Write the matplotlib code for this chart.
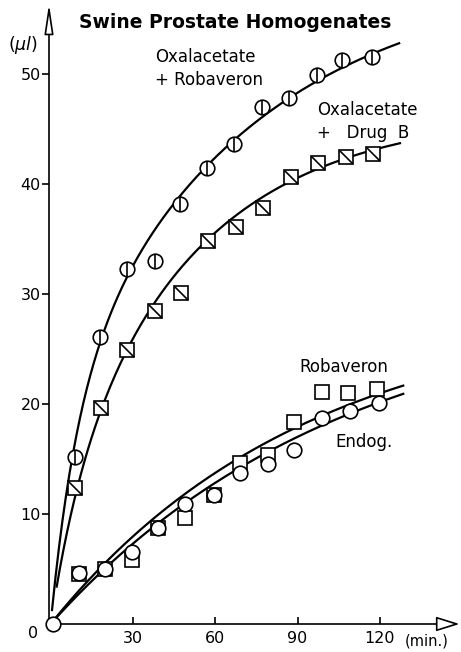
import numpy as np
import matplotlib.pyplot as plt
from matplotlib.path import Path

t_oxrob = [9, 18, 28, 38, 47, 57, 67, 77, 87, 97, 106, 117]
v_oxrob = [15.2, 26.1, 32.3, 33.0, 38.2, 41.4, 43.6, 47.0, 47.8, 49.9, 51.3, 51.5]

t_oxdrug = [9, 18.5, 28, 38, 47.5, 57.5, 67.5, 77.5, 87.5, 97.5, 107.5, 117.5]
v_oxdrug = [12.4, 19.6, 24.9, 28.4, 30.1, 34.8, 36.1, 37.8, 40.6, 41.9, 42.4, 42.7]

t_rob = [10.5, 19.7, 29.7, 39.2, 49, 59.4, 69, 79.3, 88.8, 99, 108.5, 119]
v_rob = [4.5, 5.0, 5.8, 8.7, 9.6, 11.7, 14.6, 15.4, 18.4, 21.1, 21.0, 21.4]

t_endog = [1, 10.5, 19.7, 29.7, 39.2, 49, 59.4, 69, 79.3, 88.8, 99, 109, 119.8]
v_endog = [0, 4.6, 5.0, 6.5, 8.7, 10.9, 11.7, 13.7, 14.5, 15.8, 18.7, 19.4, 20.1]

# hand-drawn curves, sampled off the figure
ct_oxrob = [0.5, 8.2, 18, 28, 47, 57.4, 67, 77, 87, 97, 106, 117, 127]
cv_oxrob = [1.0, 14.9, 26.5, 31.7, 38.3, 41.3, 43.6, 46.5, 48.0, 49.8, 51.0, 51.7, 52.2]

ct_oxdrug = [2.2, 8.9, 18.6, 27.7, 37.3, 56.8, 87.3, 107.4, 127.3]
cv_oxdrug = [1.3, 12.5, 19.75, 24.9, 28.4, 34.9, 40.6, 42.4, 43.4]

ct_rob = [0.8, 22.4, 37.3, 50.8, 67.9, 87.3, 105.5, 120, 128.5]
cv_rob = [0.4, 5.8, 9.7, 11.9, 14.9, 17.9, 20.2, 21.0, 21.1]

ct_endog = [0.8, 20, 37.3, 50.8, 69, 80, 95.6, 113.8, 128.5]
cv_endog = [0.4, 5.0, 8.8, 11.0, 14.0, 16.0, 18.1, 19.9, 20.4]

yticks = [10, 20, 30, 40, 50]
xticks = [30, 60, 90, 120]


def fit_curve(t, v):
    # two-phase saturation v = A(1-exp(-t/T1)) + B(1-exp(-t/T2)), least squares
    t = np.asarray(t, float)
    v = np.asarray(v, float)
    best = None
    taus = np.geomspace(1, 600, 150)
    for i, T1 in enumerate(taus):
        for T2 in taus[i:]:
            M = np.column_stack([1 - np.exp(-t / T1), 1 - np.exp(-t / T2)])
            coef, *_ = np.linalg.lstsq(M, v, rcond=None)
            if np.any(coef < 0):
                continue
            err = np.sum((M @ coef - v) ** 2)
            if best is None or err < best[0]:
                best = (err, coef, T1, T2)
    return best[1:]


def curve(ax, t, v):
    (A, B), T1, T2 = fit_curve(t, v)
    tt = np.linspace(min(t), max(t), 200)
    y = A * (1 - np.exp(-tt / T1)) + B * (1 - np.exp(-tt / T2))
    ax.plot(tt, y, color='black', lw=1.6, zorder=2)


diag = Path([(-1, 1), (1, -1)], [Path.MOVETO, Path.LINETO])

fig = plt.figure(figsize=(4.61, 6.52), dpi=100)
ax = fig.add_axes([49 / 461, 28 / 652, 410.5 / 461, 614 / 652])
ax.set_xlim(-0.6, 149)
ax.set_ylim(0, 55.8)

curve(ax, ct_oxrob, cv_oxrob)
curve(ax, ct_oxdrug, cv_oxdrug)
curve(ax, ct_rob, cv_rob)
curve(ax, ct_endog, cv_endog)

mk = dict(mfc='white', mec='black', mew=1.2, ls='none', zorder=3, clip_on=False)
ax.plot(t_oxrob, v_oxrob, 'o', ms=10.5, **mk)
ax.plot(t_oxrob, v_oxrob, '|', ms=10.5, color='black', mew=1.2, ls='none', zorder=4)
ax.plot(t_oxdrug, v_oxdrug, 's', ms=9.5, **mk)
ax.plot(t_oxdrug, v_oxdrug, marker=diag, ms=9.5, color='black', mew=1.2, ls='none', zorder=4)
ax.plot(t_rob, v_rob, 's', ms=9.5, **mk)
ax.plot(t_endog, v_endog, 'o', ms=10.5, **mk)

for s in ax.spines.values():
    s.set_visible(False)
arr = dict(arrowstyle='-|>,head_length=0.8,head_width=0.25', fc='white', ec='black', lw=1.2,
           shrinkA=0, shrinkB=0, mutation_scale=18)
ax.annotate('', xy=(1, 0), xytext=(0, 0), xycoords='axes fraction', arrowprops=arr, zorder=1)
ax.annotate('', xy=(0, 1.01), xytext=(0, 0), xycoords='axes fraction',
            arrowprops=dict(arr, arrowstyle='-|>,head_length=1.0,head_width=0.15'), zorder=1)

ax.set_yticks(yticks)
ax.set_xticks(xticks)
ax.tick_params(axis='y', direction='out', length=5, width=1.2, pad=1, labelsize=11.5)
ax.tick_params(axis='x', direction='in', length=5, width=1.2, pad=5, labelsize=11.5)
ax.text(-4.5, -0.9, '0', ha='right', va='center', fontsize=11.5)

ax.text(129, -1.5, '(min.)', ha='left', va='center', fontsize=10.5, clip_on=False)
ax.text(-15.5, 52.6, '($\\mu l$)', ha='left', va='center', fontsize=12.5, clip_on=False)

fig.text(235 / 461, 1 - 22 / 652, 'Swine Prostate Homogenates', ha='center', va='center',
         fontsize=13.5, fontweight='bold')
ax.text(38, 51.5, 'Oxalacetate', fontsize=12, va='center')
ax.text(38, 49.4, '+ Robaveron', fontsize=12, va='center')
ax.text(97, 46.7, 'Oxalacetate', fontsize=12, va='center')
ax.text(97, 44.6, '+   Drug  B', fontsize=12, va='center')
ax.text(90.8, 23.4, 'Robaveron', fontsize=12, va='center')
ax.text(103.6, 16.5, 'Endog.', fontsize=12, va='center')

fig.savefig('out.png', dpi=100)
